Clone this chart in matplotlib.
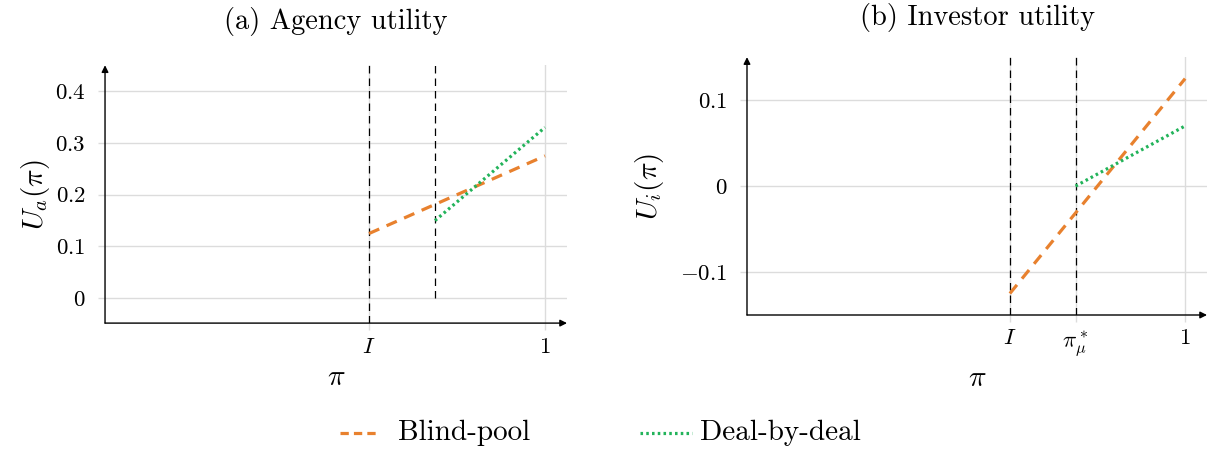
import matplotlib
matplotlib.use("Agg")
import matplotlib.pyplot as plt
from matplotlib.lines import Line2D

plt.rcParams["font.family"] = ["cmr10", "DejaVu Serif"]
plt.rcParams["mathtext.fontset"] = "cm"
plt.rcParams["axes.formatter.use_mathtext"] = True

# data
pi_i = 0.6
pi_mu = 0.75

agency_blind_x = [0.6, 1.0]
agency_blind_y = [0.125, 0.275]
agency_deal_x = [0.75, 1.0]
agency_deal_y = [0.15, 0.33]

investor_blind_x = [0.6, 1.0]
investor_blind_y = [-0.125, 0.125]
investor_deal_x = [0.75, 1.0]
investor_deal_y = [0.0, 0.07]

agency_yticks = [0, 0.1, 0.2, 0.3, 0.4]
agency_ylabels = ["$0$", "$0.1$", "$0.2$", "$0.3$", "$0.4$"]
investor_yticks = [-0.1, 0, 0.1]
investor_ylabels = ["$-0.1$", "$0$", "$0.1$"]

ORANGE = "#e8812e"
GREEN = "#22b35a"
GRID = "#dcdcdc"
DASHED = (0, (3.5, 2.5))
DOTTED = (0, (0.8, 1.0))


def _style(ax, ylim, xticks, xlabels, yticks, ylabels):
    ax.set_xlim(0, 1.05)
    ax.set_ylim(*ylim)
    for spine in ax.spines.values():
        spine.set_visible(False)
    ax.set_xticks(xticks)
    ax.set_xticklabels(xlabels, fontsize=16.5)
    ax.set_yticks(yticks)
    ax.set_yticklabels(ylabels, fontsize=16.5)
    ax.tick_params(direction="out", length=5, width=1, color=GRID)
    ax.tick_params(axis="y", pad=9)
    ax.tick_params(axis="x", pad=5)
    ax.grid(True, color=GRID, linewidth=1)
    ax.set_axisbelow(True)
    kw = dict(xycoords="axes fraction", textcoords="axes fraction", annotation_clip=False,
              arrowprops=dict(arrowstyle="-|>", color="black", lw=1.0, mutation_scale=10,
                              shrinkA=0, shrinkB=0))
    ax.annotate("", xy=(1.0, 0.0), xytext=(0.0, 0.0), **kw)
    ax.annotate("", xy=(0.0, 1.0), xytext=(0.0, 0.0), **kw)


fig = plt.figure(figsize=(12.17, 4.5), dpi=100)
ax1 = fig.add_axes([0.0863, 0.282, 0.3796, 0.573])
ax2 = fig.add_axes([0.6138, 0.300, 0.378, 0.573])

# (a) agency utility
_style(ax1, (-0.048, 0.45), [pi_i, 1.0], ["$I$", "$1$"], agency_yticks, agency_ylabels)
ax1.plot([pi_i, pi_i], [-0.048, 0.45], color="black", lw=0.9, ls=(0, (6, 4)), zorder=2)
ax1.plot([pi_mu, pi_mu], [0, 0.45], color="black", lw=0.9, ls=(0, (6, 4)), zorder=2)
ax1.plot(agency_blind_x, agency_blind_y, color=ORANGE, lw=2.3, ls=DASHED, zorder=3)
ax1.plot(agency_deal_x, agency_deal_y, color=GREEN, lw=2.3, ls=DOTTED, zorder=3)
ax1.set_title("(a) Agency utility", fontsize=20.5, pad=26)
ax1.set_ylabel(r"$U_a(\pi)$", fontsize=21, labelpad=2)
ax1.set_xlabel(r"$\pi$", fontsize=21, labelpad=6)

# (b) investor utility
_style(ax2, (-0.15, 0.15), [pi_i, pi_mu, 1.0], ["$I$", r"$\pi_\mu^*$", "$1$"],
       investor_yticks, investor_ylabels)
ax2.plot([pi_i, pi_i], [-0.15, 0.15], color="black", lw=0.9, ls=(0, (6, 4)), zorder=2)
ax2.plot([pi_mu, pi_mu], [-0.15, 0.15], color="black", lw=0.9, ls=(0, (6, 4)), zorder=2)
ax2.plot(investor_blind_x, investor_blind_y, color=ORANGE, lw=2.3, ls=DASHED, zorder=3)
ax2.plot(investor_deal_x, investor_deal_y, color=GREEN, lw=2.3, ls=DOTTED, zorder=3)
ax2.set_title("(b) Investor utility", fontsize=20.5, pad=23)
ax2.set_ylabel(r"$U_i(\pi)$", fontsize=21, labelpad=10)
ax2.set_xlabel(r"$\pi$", fontsize=21, labelpad=6)

# legend drawn by hand so each key can have its own length
leg_y = 1 - 433 / 450
fig.add_artist(Line2D([340 / 1217, 376 / 1217], [leg_y, leg_y], transform=fig.transFigure,
                      color=ORANGE, lw=2.3, ls=(0, (2.6, 1.6))))
fig.text(398 / 1217, leg_y, "Blind-pool", fontsize=21, va="center", ha="left")
fig.add_artist(Line2D([640 / 1217, 692 / 1217], [leg_y, leg_y], transform=fig.transFigure,
                      color=GREEN, lw=2.3, ls=DOTTED))
fig.text(700 / 1217, leg_y, "Deal-by-deal", fontsize=21, va="center", ha="left")

fig.savefig("out.png", dpi=100)
